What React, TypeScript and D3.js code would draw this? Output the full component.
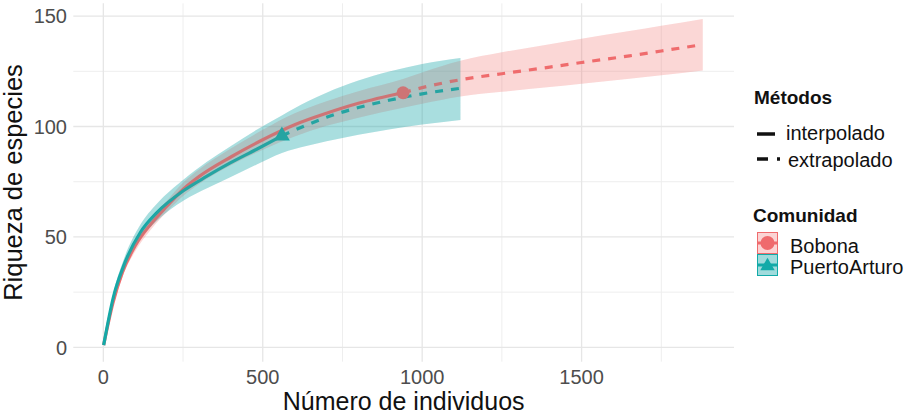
import React from "react";
import * as d3 from "d3";

// ---- Data ----
const xTicks = [0, 500, 1000, 1500];
const xMinor = [250, 750, 1250, 1750];
const yTicks = [0, 50, 100, 150];
const yMinor = [25, 75, 125];

const communities = ["Bobona", "PuertoArturo"];
const methods = ["interpolado", "extrapolado"];

const bobonaInterpX = [1, 30, 60, 100, 150, 200, 250, 300, 400, 500, 600, 700, 800, 940];
const bobonaInterpY = [1, 20, 34, 46, 56, 64, 71.5, 77.3, 86.2, 94, 100.8, 106, 110.5, 115.3];
const bobonaInterpLo = [1, 18.5, 32, 43.5, 53.5, 61.5, 68.5, 74, 82.5, 89.5, 95.5, 100.3, 104, 108.5];
const bobonaInterpHi = [1, 21.5, 36, 48.5, 58.5, 66.5, 74.5, 80.5, 90, 98.5, 106, 111.5, 116, 121.5];

const bobonaExtrapX = [940, 1000, 1120, 1250, 1400, 1500, 1650, 1750, 1880];
const bobonaExtrapY = [115.3, 117.6, 121.2, 123.9, 126.9, 129, 132, 134.2, 137.1];
const bobonaExtrapLo = [108.5, 110.3, 113.6, 115.7, 117.9, 119.4, 121.6, 123.2, 125.4];
const bobonaExtrapHi = [121.5, 124.5, 129.8, 133.6, 137.3, 139.8, 143.2, 145.6, 148.7];

const puertoInterpX = [1, 32, 64, 116, 168, 252, 325, 398, 481, 560];
const puertoInterpY = [1, 23, 37, 52, 61, 71, 77.5, 83.5, 89.7, 95.8];
const puertoInterpLo = [1, 21, 34.5, 49, 57.3, 66.5, 72, 77, 82.8, 88];
const puertoInterpHi = [1, 25, 39.8, 55.5, 65, 76, 84, 91, 98.5, 105];

const puertoExtrapX = [560, 640, 700, 800, 900, 1000, 1120];
const puertoExtrapY = [95.8, 100.8, 104.2, 108.6, 112, 114.8, 117.3];
const puertoExtrapLo = [88, 91.3, 93.3, 96.3, 98.8, 100.9, 103];
const puertoExtrapHi = [105, 111.3, 115.3, 120.8, 125, 128.3, 131];

const bobonaObs = { x: 940, y: 115.3 };
const puertoObs = { x: 560, y: 95.8 };

// ---- Styling ----
const W = 913;
const H = 419;
const RED = "#EF6B6D";
const TEAL = "#12AAA8";
const RED_FILL = "#F27A78";
const TEAL_FILL = "#12A5A8";
const FONT = "'Liberation Sans', Arial, Helvetica, sans-serif";

const panel = { left: 73.3, right: 734, top: 3.3, bottom: 361.7 };

type Pt = { x: number; y: number; lo: number; hi: number };
const zip = (xs: number[], ys: number[], lo: number[], hi: number[]): Pt[] =>
  xs.map((x, i) => ({ x, y: ys[i], lo: lo[i], hi: hi[i] }));

export default function App() {
  const x = d3.scaleLinear().domain([-94.2, 1978]).range([panel.left, panel.right]);
  const y = d3.scaleLinear().domain([-6.5, 155.8]).range([panel.bottom, panel.top]);

  const line = d3
    .line<Pt>()
    .x((d) => x(d.x))
    .y((d) => y(d.y))
    .curve(d3.curveMonotoneX);
  const area = d3
    .area<Pt>()
    .x((d) => x(d.x))
    .y0((d) => y(d.lo))
    .y1((d) => y(d.hi))
    .curve(d3.curveMonotoneX);

  const bI = zip(bobonaInterpX, bobonaInterpY, bobonaInterpLo, bobonaInterpHi);
  const bE = zip(bobonaExtrapX, bobonaExtrapY, bobonaExtrapLo, bobonaExtrapHi);
  const pI = zip(puertoInterpX, puertoInterpY, puertoInterpLo, puertoInterpHi);
  const pE = zip(puertoExtrapX, puertoExtrapY, puertoExtrapLo, puertoExtrapHi);

  const bArea = area([...bI, ...bE.slice(1)]) || "";
  const pArea = area([...pI, ...pE.slice(1)]) || "";

  const tri = d3.symbol().type(d3.symbolTriangle).size(110)() || "";
  const triSmall = d3.symbol().type(d3.symbolTriangle).size(90)() || "";

  const dash = "8,8";

  return (
    <svg
      width={W}
      height={H}
      style={{ position: "absolute", left: 0, top: 0, background: "#fff" }}
      fontFamily={FONT}
    >
      <rect width={W} height={H} fill="#fff" />
      {/* minor grid */}
      {xMinor.map((v) => (
        <line key={"xm" + v} x1={x(v)} x2={x(v)} y1={panel.top} y2={panel.bottom} stroke="#EEEEEE" strokeWidth={1} />
      ))}
      {yMinor.map((v) => (
        <line key={"ym" + v} x1={panel.left} x2={panel.right} y1={y(v)} y2={y(v)} stroke="#EEEEEE" strokeWidth={1} />
      ))}
      {/* major grid */}
      {xTicks.map((v) => (
        <line key={"xg" + v} x1={x(v)} x2={x(v)} y1={panel.top} y2={panel.bottom} stroke="#E6E6E6" strokeWidth={1.3} />
      ))}
      {yTicks.map((v) => (
        <line key={"yg" + v} x1={panel.left} x2={panel.right} y1={y(v)} y2={y(v)} stroke="#E6E6E6" strokeWidth={1.3} />
      ))}

      {/* ribbons (under) */}
      <path d={bArea} fill={RED_FILL} opacity={0.22} />
      <path d={pArea} fill={TEAL_FILL} opacity={0.25} />

      {/* lines */}
      <path d={line(bE) || ""} fill="none" stroke={RED} strokeWidth={3.2} strokeDasharray={dash} />
      <path d={line(pE) || ""} fill="none" stroke={TEAL} strokeWidth={3.2} strokeDasharray={dash} />
      <path d={line(bI) || ""} fill="none" stroke={RED} strokeWidth={3.2} />
      <path d={line(pI) || ""} fill="none" stroke={TEAL} strokeWidth={3.2} />

      {/* observed points */}
      <circle cx={x(bobonaObs.x)} cy={y(bobonaObs.y)} r={6.5} fill={RED} />
      <path d={tri} transform={`translate(${x(puertoObs.x)},${y(puertoObs.y)})`} fill={TEAL} />

      {/* ribbons (over, light) */}
      <path d={bArea} fill={RED_FILL} opacity={0.1} />
      <path d={pArea} fill={TEAL_FILL} opacity={0.15} />

      {/* axis tick labels */}
      {yTicks.map((v) => (
        <text key={"yt" + v} x={67} y={y(v)} dy="0.36em" textAnchor="end" fontSize={20} fill="#4D4D4D">
          {v}
        </text>
      ))}
      {xTicks.map((v) => (
        <text key={"xt" + v} x={x(v)} y={384} textAnchor="middle" fontSize={20} fill="#4D4D4D">
          {v}
        </text>
      ))}

      {/* axis titles */}
      <text x={(panel.left + panel.right) / 2} y={410} textAnchor="middle" fontSize={25} fill="#111">
        Número de individuos
      </text>
      <text
        transform={`translate(22,${(panel.top + panel.bottom) / 2}) rotate(-90)`}
        textAnchor="middle"
        fontSize={25.5}
        fill="#111"
      >
        Riqueza de especies
      </text>

      {/* legend: Métodos */}
      <text x={754} y={104} fontSize={19} fontWeight="bold" fill="#111">
        Métodos
      </text>
      <line x1={757} x2={775} y1={134} y2={134} stroke="#111" strokeWidth={3.5} />
      <text x={786} y={140} fontSize={20} fill="#111">
        {methods[0]}
      </text>
      <line x1={757} x2={780} y1={159} y2={159} stroke="#111" strokeWidth={3.5} strokeDasharray="11,9" />
      <text x={788} y={167} fontSize={20} fill="#111">
        {methods[1]}
      </text>

      {/* legend: Comunidad */}
      <text x={753} y={222} fontSize={19} fontWeight="bold" fill="#111">
        Comunidad
      </text>
      <rect x={757.5} y={232.5} width={20} height={21} fill={RED_FILL} fillOpacity={0.32} stroke={RED} strokeWidth={1} />
      <line x1={758} x2={777} y1={243} y2={243} stroke={RED} strokeWidth={3} />
      <circle cx={767.5} cy={243} r={7} fill={RED} />
      <text x={790} y={253} fontSize={20} fill="#111">
        {communities[0]}
      </text>
      <rect x={757.5} y={254.5} width={20} height={21} fill={TEAL_FILL} fillOpacity={0.4} stroke={TEAL} strokeWidth={1} />
      <line x1={758} x2={777} y1={265} y2={265} stroke={TEAL} strokeWidth={3} />
      <path d={triSmall} transform={`translate(767.5,266)`} fill={TEAL} />
      <text x={790} y={274} fontSize={20} fill="#111">
        {communities[1]}
      </text>
    </svg>
  );
}
